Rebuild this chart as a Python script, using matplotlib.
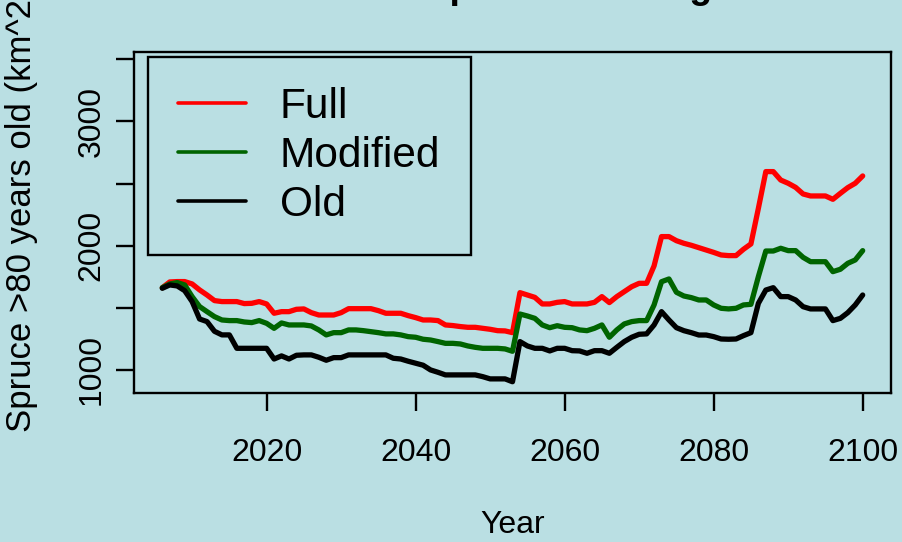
import numpy as np
import matplotlib
matplotlib.use('Agg')
import matplotlib.pyplot as plt

years = list(range(2006, 2101))

full = [1662, 1708, 1711, 1711, 1692, 1644, 1603, 1558, 1550, 1550,
        1550, 1534, 1536, 1550, 1531, 1456, 1469, 1469, 1488, 1491,
        1461, 1442, 1442, 1442, 1461, 1493, 1493, 1493, 1493, 1477,
        1456, 1456, 1456, 1437, 1421, 1402, 1402, 1397, 1362, 1357,
        1349, 1343, 1343, 1335, 1327, 1316, 1314, 1300, 1622, 1603,
        1584, 1531, 1531, 1544, 1550, 1531, 1531, 1531, 1544, 1590,
        1542, 1590, 1630, 1670, 1697, 1697, 1837, 2073, 2073, 2040,
        2019, 2003, 1984, 1965, 1946, 1925, 1920, 1920, 1971, 2014,
        2300, 2596, 2596, 2528, 2502, 2469, 2416, 2400, 2400, 2400,
        2373, 2421, 2467, 2502, 2561]

modified = [1662, 1692, 1703, 1684, 1590, 1510, 1469, 1429, 1402, 1397,
            1397, 1386, 1381, 1397, 1375, 1335, 1378, 1362, 1362, 1362,
            1354, 1322, 1282, 1300, 1300, 1322, 1322, 1316, 1308, 1300,
            1290, 1290, 1282, 1268, 1263, 1247, 1241, 1228, 1214, 1214,
            1209, 1193, 1182, 1174, 1174, 1174, 1169, 1150, 1450, 1434,
            1415, 1362, 1340, 1356, 1343, 1340, 1322, 1316, 1335, 1362,
            1263, 1322, 1370, 1389, 1397, 1397, 1523, 1710, 1732, 1625,
            1595, 1582, 1563, 1563, 1523, 1496, 1491, 1496, 1523, 1528,
            1751, 1957, 1957, 1979, 1960, 1960, 1906, 1871, 1871, 1871,
            1791, 1810, 1858, 1885, 1960]

old = [1657, 1684, 1676, 1638, 1550, 1410, 1389, 1311, 1282, 1282,
       1174, 1174, 1174, 1174, 1174, 1088, 1113, 1088, 1118, 1121,
       1121, 1102, 1078, 1099, 1099, 1121, 1121, 1121, 1121, 1121,
       1121, 1094, 1088, 1070, 1054, 1038, 1000, 981, 960, 960,
       960, 960, 960, 946, 928, 928, 928, 905, 1228, 1193,
       1174, 1174, 1153, 1174, 1174, 1155, 1153, 1134, 1155, 1155,
       1134, 1182, 1228, 1263, 1287, 1290, 1362, 1469, 1402, 1340,
       1316, 1300, 1281, 1281, 1268, 1249, 1247, 1249, 1276, 1300,
       1536, 1643, 1662, 1590, 1590, 1563, 1509, 1491, 1491, 1491,
       1397, 1415, 1461, 1523, 1603]

series_names = ['Full', 'Modified', 'Old']
series_colors = ['#ff0000', '#006400', '#000000']
x_ticks = [2020, 2040, 2060, 2080, 2100]
y_ticks = [1000, 1500, 2000, 2500, 3000, 3500]
y_tick_labels = ['1000', '', '2000', '', '3000', '']

bg = '#badfe3'
plt.rcParams['font.family'] = ['Liberation Sans', 'DejaVu Sans']

fig = plt.figure(figsize=(9.03, 5.42), dpi=100, facecolor=bg)
ax = fig.add_axes([134.3/903, 1 - 393.3/542, (890.7 - 134.3)/903, (393.3 - 52.3)/542])
ax.set_facecolor(bg)

for vals, name, col in zip([full, modified, old], series_names, series_colors):
    ax.plot(years, vals, color=col, lw=3.8, label=name,
            solid_capstyle='round', solid_joinstyle='round')

ax.set_xlim(2002.24, 2103.76)
ax.set_ylim(812, 3556)
ax.set_xticks(x_ticks)
ax.set_xticklabels([str(t) for t in x_ticks])
ax.set_yticks(y_ticks)
ax.set_yticklabels(y_tick_labels)
for lab in ax.get_yticklabels():
    lab.set_rotation(90)
    lab.set_va('center')

ax.tick_params(axis='both', direction='out', length=13, width=1.7,
               labelsize=23, color='black')
ax.tick_params(axis='x', pad=19)
ax.tick_params(axis='y', pad=7)
for sp in ax.spines.values():
    sp.set_linewidth(1.7)

fig.text(512.5/903, 1 + 2/542, 'Mature Spruce Coverage', ha='center',
         va='baseline', fontsize=27, fontweight='bold')
fig.text(22/903, 1 - 432/542, 'Spruce >80 years old (km^2)', rotation=90,
         ha='center', va='bottom', fontsize=25)
fig.text(512.5/903, 1 - 533/542, 'Year', ha='center', va='baseline', fontsize=23)

leg = ax.legend(loc='upper left', bbox_to_anchor=(147.7/903, 1 - 56.7/542),
                bbox_transform=fig.transFigure, borderaxespad=0, fontsize=30.5,
                frameon=True, fancybox=False, framealpha=1, facecolor=bg,
                edgecolor='black', handlelength=1.6, handletextpad=0.8,
                labelspacing=0.21, borderpad=0.72)
leg.get_frame().set_linewidth(1.7)
for h in leg.get_lines():
    h.set_linewidth(2.6)

plt.savefig('out.png', dpi=100, facecolor=bg)
